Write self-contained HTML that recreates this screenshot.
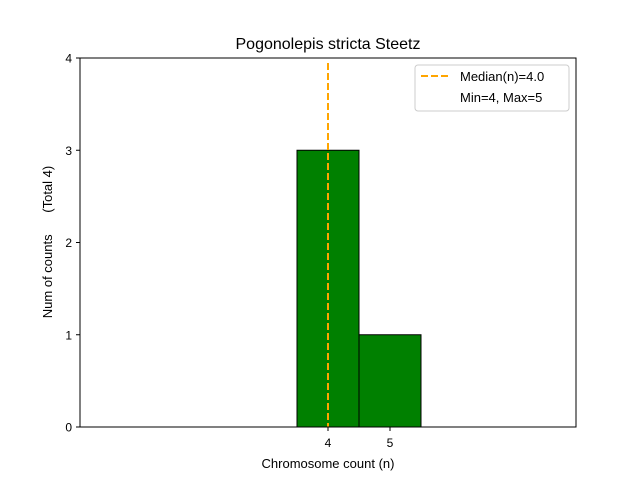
<!DOCTYPE html>
<html><head><meta charset="utf-8"><style>body{margin:0;background:#fff}svg{display:block;font-family:"Liberation Sans","DejaVu Sans",sans-serif}</style></head>
<body>
<svg id="chart" width="640" height="480" xmlns="http://www.w3.org/2000/svg">
<rect width="640" height="480" fill="#fff"/>
<text x="328" y="49" font-size="16" text-anchor="middle">Pogonolepis stricta Steetz</text>
<g id="bars"></g>
<g id="ticks"></g>
<rect x="80" y="58" width="496" height="369" fill="none" stroke="#000" stroke-width="1"/>
<text x="328" y="468" font-size="13" text-anchor="middle">Chromosome count (n)</text>
<text transform="translate(52,242) rotate(-90)" font-size="13" text-anchor="middle">Num of counts &#160;&#160;&#160;&#160;&#160;(Total 4)</text>
<g>
<rect x="415" y="65" width="154" height="46" rx="3" fill="#fff" fill-opacity="0.8" stroke="#ccc"/>
<line x1="421" y1="76" x2="449" y2="76" stroke="orange" stroke-width="2" stroke-dasharray="7,3"/>
<text x="460" y="81" font-size="13">Median(n)=4.0</text>
<text x="460" y="102" font-size="13">Min=4, Max=5</text>
</g>
</svg>
<script>
const categories = [4, 5];
const counts = [3, 1];
const xTicks = [4, 5];
const yTicks = [0, 1, 2, 3, 4];
const medianValue = 4.0;
const NS = "http://www.w3.org/2000/svg";
const x = v => 80 + (v - 0) / 8 * 496;
const y = v => 427 - v / 4 * 369;
const bars = document.getElementById('bars');
const ticks = document.getElementById('ticks');
function mk(t, a, p) { const e = document.createElementNS(NS, t); for (const k in a) e.setAttribute(k, a[k]); p.appendChild(e); return e; }
categories.forEach((c, i) => {
  const r = mk('rect', {x: x(c - 0.5), y: y(counts[i]), width: x(c + 0.5) - x(c - 0.5), height: y(0) - y(counts[i]), fill: 'green', stroke: '#000', 'stroke-width': 1}, bars);
  
  
});
const med = mk('line', {x1: x(medianValue), x2: x(medianValue), y1: 63, y2: 427, stroke: 'orange', 'stroke-width': 2, 'stroke-dasharray': '7,3'}, bars);


xTicks.forEach(t => {
  mk('line', {x1: x(t), x2: x(t), y1: 427, y2: 431, stroke: '#000'}, ticks);
  const tx = mk('text', {x: x(t), y: 447, 'font-size': 12, 'text-anchor': 'middle'}, ticks);
  tx.textContent = t;
  
  
});
yTicks.forEach(t => {
  mk('line', {x1: 76, x2: 80, y1: y(t), y2: y(t), stroke: '#000'}, ticks);
  const tx = mk('text', {x: 72, y: y(t) + 4.5, 'font-size': 12, 'text-anchor': 'end'}, ticks);
  tx.textContent = t;
  
  
});
</script>
</body></html>
